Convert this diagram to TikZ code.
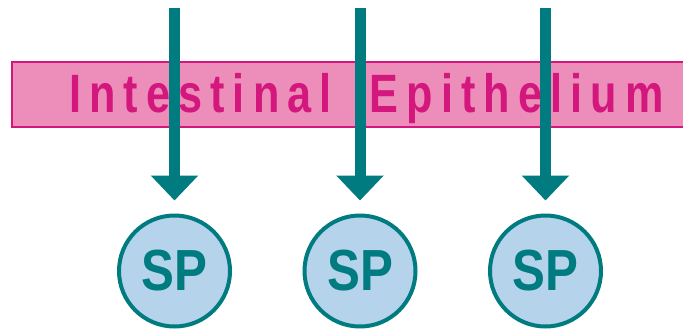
\documentclass[tikz,border=0pt]{standalone}
\usepackage{fontspec}
\usepackage{tikz}
\usetikzlibrary{arrows.meta}
\newfontfamily\bandfont{Liberation Sans}[FakeStretch=0.8,LetterSpace=15]
\newfontfamily\spfont{Liberation Sans}[FakeStretch=0.85]

\definecolor{epi_pink}{HTML}{EC8DBA}
\definecolor{epi_magenta}{HTML}{D3177D}
\definecolor{sp_teal}{HTML}{007B80}
\definecolor{sp_blue}{HTML}{B6D3EC}

\tikzset{
  sporgan/.style={circle, draw=sp_teal, fill=sp_blue, line width=4pt,
    minimum size=111pt, inner sep=0pt, text=sp_teal,
    font=\spfont\bfseries\fontsize{58}{60}\selectfont},
  flow/.style={draw=sp_teal, line width=11pt,
    -{Triangle[width=46pt,length=25pt]}}
}

\begin{document}
\begin{tikzpicture}[x=1pt,y=-1pt]
\useasboundingbox (0,0) rectangle (688,330);

% epithelium band
\fill[epi_pink] (12,62) rectangle (683,127);
\draw[epi_magenta, line width=2.5pt] (683,62) -- (12,62) -- (12,127) -- (683,127);
\node[anchor=base west, inner sep=0pt, text=epi_magenta,
  font=\bandfont\bfseries\fontsize{54}{56}\selectfont] (epi) at (69,112)
  {Intestinal\hspace{18pt} Epithelium};

% arrows and SP circles
\foreach \x [count=\i] in {174.5,360,545.5} {
  \coordinate (in\i) at (\x,8);
  \node[sporgan] (sp\i) at (\x,271) {\raisebox{-3pt}{SP}};
  \draw[flow, shorten >=13pt] (in\i) -- (sp\i.north);
}

\end{tikzpicture}
\end{document}
